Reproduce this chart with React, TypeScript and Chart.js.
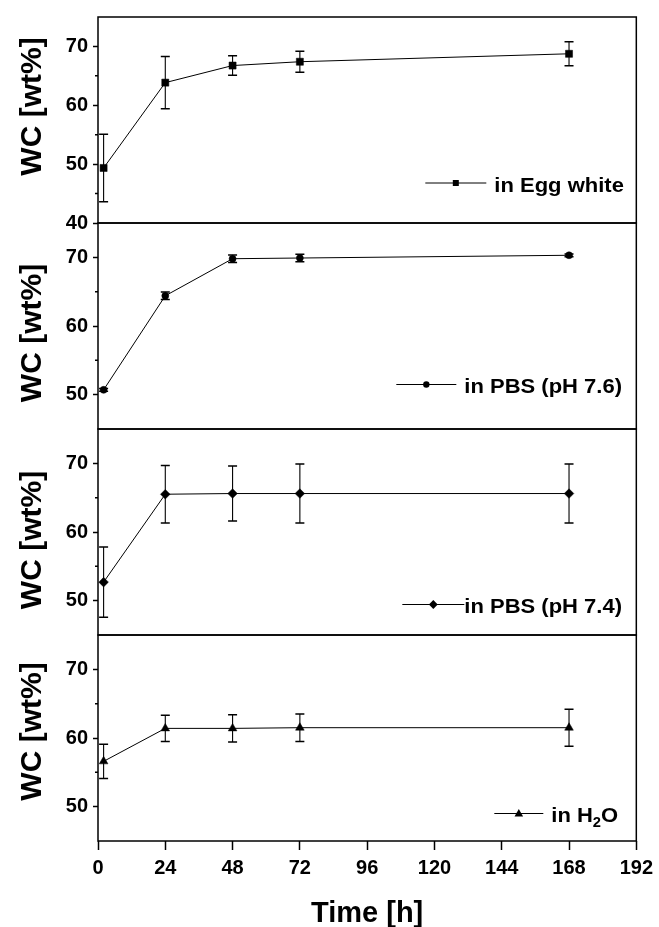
import React, { useEffect, useRef } from 'react';
import { Chart, registerables } from 'chart.js';

Chart.register(...registerables);

// Sampling times [h]
const hours = [2, 24, 48, 72, 168];

// Water content [wt%] and standard deviations per medium
const eggWhite = [49.35, 63.85, 66.75, 67.4, 68.75];
const eggWhiteErr = [5.75, 4.45, 1.65, 1.8, 2.05];

const pbs76 = [50.7, 64.4, 69.8, 69.9, 70.3];
const pbs76Err = [0.2, 0.55, 0.55, 0.55, 0.2];

const pbs74 = [52.7, 65.5, 65.6, 65.6, 65.6];
const pbs74Err = [5.1, 4.2, 4.0, 4.3, 4.3];

const water = [56.6, 61.4, 61.4, 61.5, 61.5];
const waterErr = [2.5, 1.9, 2.0, 2.0, 2.7];

const seriesNames = ['in Egg white', 'in PBS (pH 7.6)', 'in PBS (pH 7.4)', 'in H\u2082O'];

const xTicks = [0, 24, 48, 72, 96, 120, 144, 168, 192];
const yTicksTop = [40, 50, 60, 70];
const yTicksLower = [50, 60, 70];
const yMinorTop = [45, 55, 65];
const yMinorLower = [55, 65];

const yTitle = 'WC [wt%]';
const xTitle = 'Time [h]';

const FONT = 'Arial, "Liberation Sans", Helvetica, sans-serif';

type Marker = 'rect' | 'circle' | 'rectRot' | 'triangle';

interface Panel {
  id: string;
  name: string;
  values: number[];
  errors: number[];
  min: number;
  max: number;
  ticks: number[];
  minor: number[];
  marker: Marker;
  radius: number;
  legendMarker: number;
}

// Panels listed top to bottom
const panels: Panel[] = [
  { id: 'yEgg', name: seriesNames[0], values: eggWhite, errors: eggWhiteErr, min: 40, max: 75, ticks: yTicksTop, minor: yMinorTop, marker: 'rect', radius: 5, legendMarker: 3 },
  { id: 'yPbs76', name: seriesNames[1], values: pbs76, errors: pbs76Err, min: 45, max: 75, ticks: yTicksLower, minor: yMinorLower, marker: 'circle', radius: 3.5, legendMarker: 3.2 },
  { id: 'yPbs74', name: seriesNames[2], values: pbs74, errors: pbs74Err, min: 45, max: 75, ticks: yTicksLower, minor: yMinorLower, marker: 'rectRot', radius: 4.8, legendMarker: 4.4 },
  { id: 'yH2O', name: seriesNames[3], values: water, errors: waterErr, min: 45, max: 75, ticks: yTicksLower, minor: yMinorLower, marker: 'triangle', radius: 5, legendMarker: 4.5 },
];

// Legend placement inside each panel (offsets from the plot's right edge / panel bottom)
const legendPlacement = [
  { lineStart: 211, lineEnd: 150, textStart: 142, lift: 40 },
  { lineStart: 240, lineEnd: 180, textStart: 172, lift: 44.5 },
  { lineStart: 234, lineEnd: 172, textStart: 172, lift: 30.5 },
  { lineStart: 142, lineEnd: 93, textStart: 85, lift: 27.5 },
];

// Vertical shift of each y title from its panel centre
const titleShift = [-13.5, 7, 8, -6.5];

function markerPath(ctx: CanvasRenderingContext2D, m: Marker, x: number, y: number, r: number) {
  ctx.beginPath();
  if (m === 'rect') {
    ctx.rect(x - r, y - r, 2 * r, 2 * r);
  } else if (m === 'circle') {
    ctx.arc(x, y, r, 0, Math.PI * 2);
  } else if (m === 'rectRot') {
    ctx.moveTo(x, y - r);
    ctx.lineTo(x + r, y);
    ctx.lineTo(x, y + r);
    ctx.lineTo(x - r, y);
    ctx.closePath();
  } else {
    ctx.moveTo(x, y - r);
    ctx.lineTo(x + r * 0.95, y + r * 0.65);
    ctx.lineTo(x - r * 0.95, y + r * 0.65);
    ctx.closePath();
  }
  ctx.fill();
}

const errorBarPlugin = {
  id: 'errorBars',
  beforeDatasetsDraw(chart: any) {
    const ctx = chart.ctx as CanvasRenderingContext2D;
    ctx.save();
    ctx.strokeStyle = '#000';
    panels.forEach((p, i) => {
      const meta = chart.getDatasetMeta(i);
      const ys = chart.scales[p.id];
      meta.data.forEach((pt: any, j: number) => {
        const x = pt.x;
        const top = ys.getPixelForValue(p.values[j] + p.errors[j]);
        const bot = ys.getPixelForValue(p.values[j] - p.errors[j]);
        ctx.lineWidth = 1.1;
        ctx.beginPath();
        ctx.moveTo(x, top);
        ctx.lineTo(x, bot);
        ctx.stroke();
        ctx.lineWidth = 1.5;
        ctx.beginPath();
        ctx.moveTo(x - 4.5, top);
        ctx.lineTo(x + 4.5, top);
        ctx.moveTo(x - 4.5, bot);
        ctx.lineTo(x + 4.5, bot);
        ctx.stroke();
      });
    });
    ctx.restore();
  },
};

function drawWideText(ctx: CanvasRenderingContext2D, text: string, x: number, y: number, size: number, sx: number) {
  ctx.save();
  ctx.font = `bold ${size}px ${FONT}`;
  ctx.translate(x, y);
  ctx.scale(sx, 1);
  ctx.fillText(text, 0, 0);
  const w = ctx.measureText(text).width * sx;
  ctx.restore();
  return w;
}

const framePlugin = {
  id: 'panelFrames',
  afterDraw(chart: any) {
    const ctx = chart.ctx as CanvasRenderingContext2D;
    const area = chart.chartArea;
    ctx.save();
    ctx.strokeStyle = '#000';
    ctx.fillStyle = '#000';

    panels.forEach((p, i) => {
      const s = chart.scales[p.id];
      // panel box
      ctx.lineWidth = 1.5;
      ctx.strokeRect(area.left, s.top, area.right - area.left, s.bottom - s.top);

      // minor ticks
      ctx.beginPath();
      p.minor.forEach((v) => {
        const y = s.getPixelForValue(v);
        ctx.moveTo(area.left - 3, y);
        ctx.lineTo(area.left, y);
      });
      ctx.stroke();

      // y title
      ctx.save();
      ctx.translate(41, (s.top + s.bottom) / 2 + titleShift[i]);
      ctx.rotate(-Math.PI / 2);
      ctx.font = `bold 30px ${FONT}`;
      ctx.textAlign = 'center';
      ctx.textBaseline = 'alphabetic';
      ctx.fillText(yTitle, 0, 0);
      ctx.restore();

      // legend
      const lp = legendPlacement[i];
      const ly = s.bottom - lp.lift;
      const x1 = area.right - lp.lineStart;
      const x2 = area.right - lp.lineEnd;
      ctx.lineWidth = 1;
      ctx.beginPath();
      ctx.moveTo(x1, ly);
      ctx.lineTo(x2, ly);
      ctx.stroke();
      markerPath(ctx, p.marker, (x1 + x2) / 2, ly, p.legendMarker);

      ctx.textAlign = 'left';
      ctx.textBaseline = 'alphabetic';
      const base = ly + 8.5;
      let tx = area.right - lp.textStart;
      const parts = p.name.split('\u2082');
      parts.forEach((part, k) => {
        tx += drawWideText(ctx, part, tx, base, 20, 1.1);
        if (k < parts.length - 1) {
          tx += drawWideText(ctx, '2', tx, base + 5, 14, 1.05);
        }
      });
    });

    // x title
    ctx.font = `bold 29px ${FONT}`;
    ctx.textAlign = 'center';
    ctx.textBaseline = 'alphabetic';
    ctx.fillText(xTitle, (area.left + area.right) / 2, 922);
    ctx.restore();
  },
};

export default function App() {
  const ref = useRef<HTMLCanvasElement | null>(null);

  useEffect(() => {
    if (!ref.current) return;

    const tickFont = { family: FONT, size: 20, weight: 'bold' as const };

    const scales: any = {
      x: {
        type: 'linear',
        min: 0,
        max: 192,
        afterBuildTicks: (s: any) => {
          s.ticks = xTicks.map((v) => ({ value: v }));
        },
        ticks: { font: tickFont, color: '#000', padding: 6, maxRotation: 0, autoSkip: false },
        grid: { display: true, drawOnChartArea: false, tickLength: 9, tickWidth: 1.5, tickColor: '#000' },
        border: { display: false },
        afterFit: (s: any) => {
          s.height = 86;
        },
      },
    };

    // stacked y axes: the last one defined sits on top
    [...panels].reverse().forEach((p) => {
      scales[p.id] = {
        type: 'linear',
        position: 'left',
        stack: 'wc',
        stackWeight: 1,
        min: p.min,
        max: p.max,
        afterBuildTicks: (s: any) => {
          s.ticks = p.ticks.map((v) => ({ value: v }));
        },
        ticks: { font: tickFont, color: '#000', padding: 5 },
        grid: { display: true, drawOnChartArea: false, tickLength: 5, tickWidth: 1.5, tickColor: '#000' },
        border: { display: false },
        afterFit: (s: any) => {
          s.width = 98;
        },
      };
    });

    const chart = new Chart(ref.current, {
      type: 'line',
      data: {
        datasets: panels.map((p) => ({
          label: p.name,
          data: hours.map((h, j) => ({ x: h, y: p.values[j] })),
          yAxisID: p.id,
          xAxisID: 'x',
          borderColor: '#000',
          borderWidth: 1,
          tension: 0,
          pointStyle: p.marker,
          pointRadius: p.radius,
          pointBackgroundColor: '#000',
          pointBorderColor: '#000',
          pointBorderWidth: 0.5,
          clip: false,
        })),
      },
      options: {
        responsive: false,
        devicePixelRatio: 1,
        animation: false,
        layout: { padding: { left: 0, right: 21, top: 15, bottom: 0 } },
        scales,
        plugins: {
          legend: { display: false },
          tooltip: { enabled: false },
        },
      },
      plugins: [errorBarPlugin, framePlugin],
    });

    return () => chart.destroy();
  }, []);

  return (
    <div style={{ position: 'absolute', left: 0, top: 0, width: 659, height: 927, background: '#fff' }}>
      <canvas ref={ref} width={659} height={927} style={{ width: 659, height: 927, display: 'block' }} />
    </div>
  );
}
